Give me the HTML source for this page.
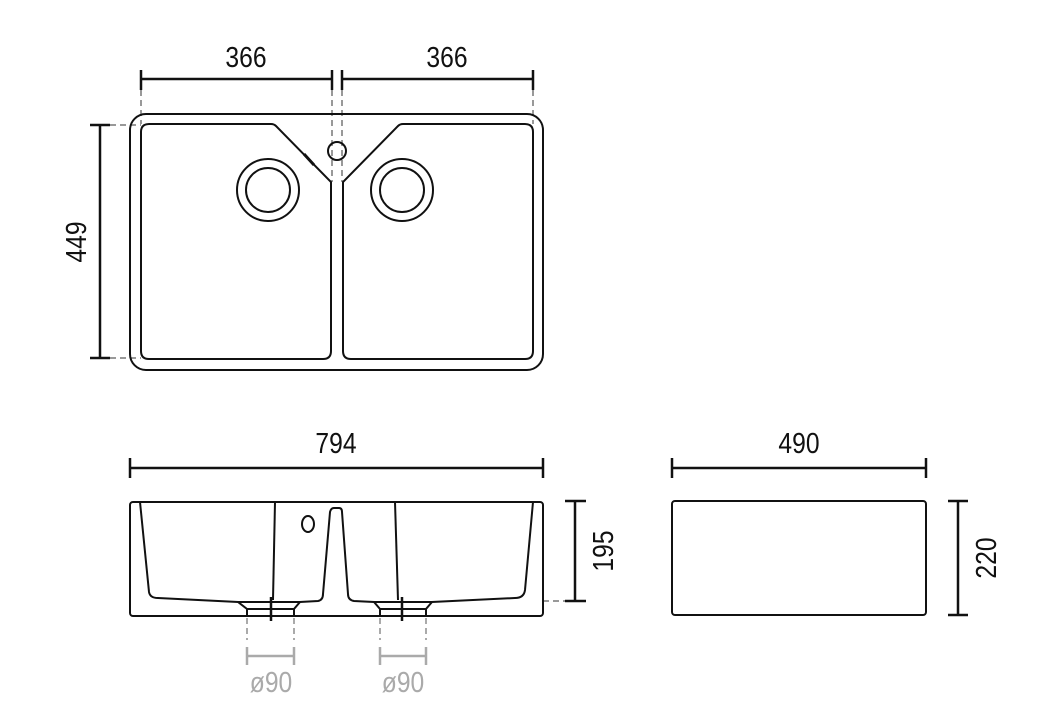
<!DOCTYPE html>
<html><head><meta charset="utf-8"><style>
html,body{margin:0;padding:0;background:#fff;}
svg{display:block;}
text{font-family:"Liberation Sans",sans-serif;font-size:29px;fill:#111;}
</style></head><body>
<svg width="1055" height="713" viewBox="0 0 1055 713" xmlns="http://www.w3.org/2000/svg">
<g fill="none" stroke="#999" stroke-width="2" stroke-dasharray="6,4">
<line x1="141" y1="90" x2="141" y2="124"/>
<line x1="332" y1="90" x2="332" y2="182"/>
<line x1="342" y1="90" x2="342" y2="182"/>
<line x1="533" y1="90" x2="533" y2="124"/>
<line x1="110" y1="125" x2="141" y2="125"/>
<line x1="110" y1="358" x2="141" y2="358"/>
<line x1="543" y1="601" x2="570" y2="601"/>
</g>
<g fill="none" stroke="#aaa" stroke-width="2" stroke-dasharray="6,4">
<line x1="247" y1="618" x2="247" y2="640"/>
<line x1="294" y1="618" x2="294" y2="640"/>
<line x1="380" y1="618" x2="380" y2="640"/>
<line x1="426" y1="618" x2="426" y2="640"/>
</g>
<g fill="none" stroke="#aaa" stroke-width="2.5">
<line x1="247" y1="656" x2="294" y2="656"/><line x1="247" y1="647" x2="247" y2="665"/><line x1="294" y1="647" x2="294" y2="665"/>
<line x1="380" y1="656" x2="426" y2="656"/><line x1="380" y1="647" x2="380" y2="665"/><line x1="426" y1="647" x2="426" y2="665"/>
</g>
<g fill="none" stroke="#111" stroke-width="2.5">
<!-- top dims -->
<line x1="141" y1="79" x2="332" y2="79"/><line x1="141" y1="70" x2="141" y2="90"/><line x1="332" y1="70" x2="332" y2="90"/>
<line x1="342" y1="79" x2="533" y2="79"/><line x1="342" y1="70" x2="342" y2="90"/><line x1="533" y1="70" x2="533" y2="90"/>
<line x1="100" y1="125" x2="100" y2="358"/><line x1="90" y1="125" x2="110" y2="125"/><line x1="90" y1="358" x2="110" y2="358"/>
<line x1="130" y1="468" x2="543" y2="468"/><line x1="130" y1="458" x2="130" y2="478"/><line x1="543" y1="458" x2="543" y2="478"/>
<line x1="672" y1="468" x2="926" y2="468"/><line x1="672" y1="458" x2="672" y2="478"/><line x1="926" y1="458" x2="926" y2="478"/>
<line x1="575" y1="501" x2="575" y2="601"/><line x1="565" y1="501" x2="586" y2="501"/><line x1="565" y1="601" x2="586" y2="601"/>
<line x1="958" y1="501" x2="958" y2="615"/><line x1="948" y1="501" x2="968" y2="501"/><line x1="948" y1="615" x2="968" y2="615"/>
</g>
<g fill="none" stroke="#111" stroke-width="2">
<!-- top view -->
<rect x="130" y="114" width="413" height="256" rx="16"/>
<path d="M149 124 H271 Q274 124 276 126 L331 182 V351 Q331 359 323 359 H149 Q141 359 141 351 V132 Q141 124 149 124 Z"/>
<path d="M525 124 H403 Q400 124 398 126 L343 182 V351 Q343 359 351 359 H525 Q533 359 533 351 V132 Q533 124 525 124 Z"/>
<circle cx="268" cy="190" r="31"/><circle cx="268" cy="190" r="22"/>
<circle cx="402" cy="190" r="31"/><circle cx="402" cy="190" r="22"/>
<circle cx="337" cy="151" r="9"/>
<line x1="304" y1="154" x2="314" y2="165" stroke-width="3"/>
<!-- front view -->
<rect x="130" y="502" width="413" height="114" rx="3"/>
<path d="M140 502 L149 592 Q150 598 158 598 L238 602 L247 609 V616"/>
<path d="M294 616 V609 L300 602 L318 601 Q323 600 323 594 L330 512 Q331 508 334 508 H339 Q342 508 342 512 L348 594 Q348 600 354 601 L374 602 L380 609 V616"/>
<path d="M426 616 V609 L432 602 L515 598 Q524 598 525 590 L533 502"/>
<path d="M275 502 L273 600"/><path d="M395 502 L398 600"/>
<line x1="238" y1="602" x2="300" y2="602"/><line x1="247" y1="609" x2="294" y2="609"/>
<line x1="374" y1="602" x2="432" y2="602"/><line x1="380" y1="609" x2="426" y2="609"/>
<ellipse cx="308" cy="524" rx="6" ry="8"/>
<!-- side view -->
<rect x="672" y="501" width="254" height="114" rx="3"/>
</g>
<g stroke="#111" stroke-width="2.5"><line x1="271" y1="597" x2="271" y2="621"/><line x1="402" y1="597" x2="402" y2="621"/></g>
<g text-anchor="middle">
<text transform="translate(246,67) scale(0.85,1)">366</text>
<text transform="translate(447,67) scale(0.85,1)">366</text>
<text transform="translate(336,453) scale(0.85,1)">794</text>
<text transform="translate(799,453) scale(0.85,1)">490</text>
<text transform="translate(86,242) rotate(-90) scale(0.85,1)">449</text>
<text transform="translate(613,551) rotate(-90) scale(0.85,1)">195</text>
<text transform="translate(996,558) rotate(-90) scale(0.85,1)">220</text>
<text transform="translate(271,692) scale(0.85,1)" style="fill:#aaa">ø90</text>
<text transform="translate(403,692) scale(0.85,1)" style="fill:#aaa">ø90</text>
</g>
</svg>
</body></html>
